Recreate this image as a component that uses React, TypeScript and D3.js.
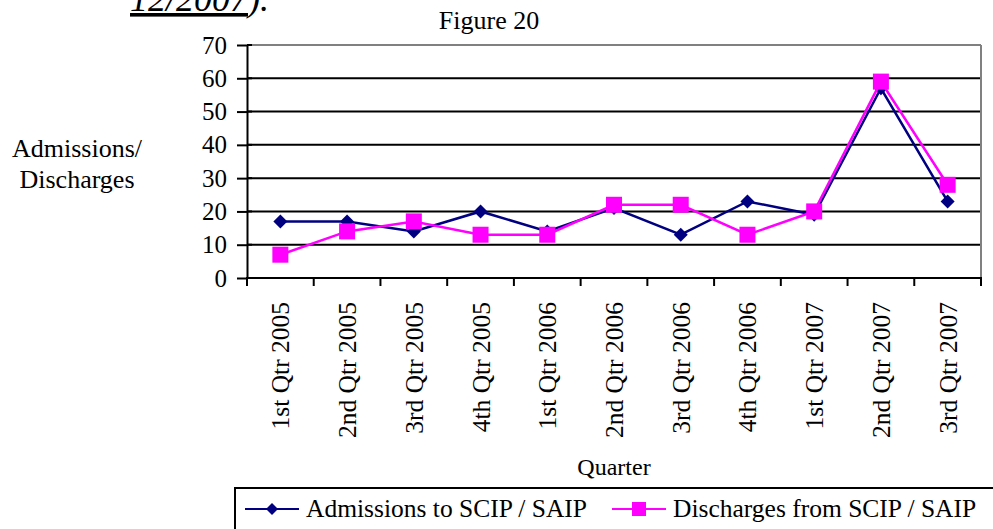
import { useEffect, useRef } from 'react';
import * as d3 from 'd3';

const quarters = [
  '1st Qtr 2005', '2nd Qtr 2005', '3rd Qtr 2005', '4th Qtr 2005',
  '1st Qtr 2006', '2nd Qtr 2006', '3rd Qtr 2006', '4th Qtr 2006',
  '1st Qtr 2007', '2nd Qtr 2007', '3rd Qtr 2007',
];
const admissions = [17, 17, 14, 20, 14, 21, 13, 23, 19, 57, 23];
const discharges = [7, 14, 17, 13, 13, 22, 22, 13, 20, 59, 28];
const yTicks = [0, 10, 20, 30, 40, 50, 60, 70];

const W = 993;
const H = 529;
const FONT = '"Liberation Serif", "Times New Roman", serif';

// excel style markers
const diamondPath = (r: number) => `M0,${-r}L${r},0L0,${r}L${-r},0Z`;
const squarePath = (r: number) => `M${-r},${-r}H${r}V${r}H${-r}Z`;

export default function App() {
  const svgRef = useRef<SVGSVGElement>(null);

  useEffect(() => {
    if (!svgRef.current) return;
    const svg = d3.select(svgRef.current);
    svg.selectAll('*').remove();

    const left = 247, right = 981, top = 45, bottom = 278;

    const x = d3.scaleBand<string>().domain(quarters).range([left, right]).padding(0);
    const y = d3.scaleLinear().domain([0, 70]).range([bottom, top]);
    const cx = (q: string) => (x(q) || 0) + x.bandwidth() / 2;

    // cut-off heading text at the top
    const head = svg.append('text')
      .attr('x', 130).attr('y', 11)
      .style('font-family', FONT).style('font-size', '36px').style('font-style', 'italic')
      .attr('fill', '#000');
    head.append('tspan').style('text-decoration', 'underline').text('12/2007');
    head.append('tspan').text(').');

    svg.append('text')
      .attr('x', 489).attr('y', 29)
      .attr('text-anchor', 'middle')
      .style('font-family', FONT).style('font-size', '26px')
      .text('Figure 20');

    // gridlines
    svg.append('g').selectAll('line')
      .data(yTicks.filter(t => t > 0 && t < 70))
      .enter().append('line')
      .attr('x1', left).attr('x2', right)
      .attr('y1', d => y(d)).attr('y2', d => y(d))
      .attr('stroke', '#000').attr('stroke-width', 2);

    // plot frame (top / right gray)
    svg.append('line').attr('x1', left).attr('x2', right).attr('y1', y(70)).attr('y2', y(70))
      .attr('stroke', '#808080').attr('stroke-width', 2);
    svg.append('line').attr('x1', right).attr('x2', right).attr('y1', y(70)).attr('y2', bottom)
      .attr('stroke', '#808080').attr('stroke-width', 2);

    // y axis
    const yAxis = d3.axisLeft(y).tickValues(yTicks).tickSize(10).tickPadding(10).tickSizeOuter(0);
    const yg = svg.append('g').attr('transform', `translate(${left},0)`).call(yAxis);
    yg.select('.domain').attr('stroke', '#000').attr('stroke-width', 2);
    yg.selectAll('.tick line').attr('stroke', '#000').attr('stroke-width', 2);
    yg.selectAll('.tick text')
      .style('font-family', FONT).style('font-size', '25px').attr('fill', '#000');
    svg.append('g').selectAll('line').data(yTicks).enter().append('line')
      .attr('x1', left).attr('x2', left + 5).attr('y1', d => y(d)).attr('y2', d => y(d))
      .attr('stroke', '#000').attr('stroke-width', 2);

    // x axis
    svg.append('line').attr('x1', left - 1).attr('x2', right + 1).attr('y1', bottom).attr('y2', bottom)
      .attr('stroke', '#000').attr('stroke-width', 2);
    const bounds = [...quarters.map(q => x(q) || 0), right];
    svg.append('g').selectAll('line').data(bounds).enter().append('line')
      .attr('x1', d => d).attr('x2', d => d).attr('y1', bottom).attr('y2', bottom + 8)
      .attr('stroke', '#000').attr('stroke-width', 2);
    svg.append('g').selectAll('text').data(quarters).enter().append('text')
      .attr('transform', d => `translate(${cx(d) + 9},${302}) rotate(-90)`)
      .attr('text-anchor', 'end')
      .style('font-family', FONT).style('font-size', '25.5px')
      .text(d => d);

    // axis titles
    const yt = svg.append('text').attr('text-anchor', 'middle')
      .style('font-family', FONT).style('font-size', '26px');
    yt.append('tspan').attr('x', 77).attr('y', 157).text('Admissions/');
    yt.append('tspan').attr('x', 77).attr('y', 188).text('Discharges');

    svg.append('text')
      .attr('x', (left + right) / 2).attr('y', 475)
      .attr('text-anchor', 'middle')
      .style('font-family', FONT).style('font-size', '24px')
      .text('Quarter');

    // series
    const series = [
      { name: 'Admissions to SCIP / SAIP', values: admissions, color: '#000080', marker: diamondPath(7) },
      { name: 'Discharges from SCIP / SAIP', values: discharges, color: '#FF00FF', marker: squarePath(8) },
    ];
    const line = d3.line<number>().x((_, i) => cx(quarters[i])).y(d => y(d));

    series.forEach(s => {
      svg.append('path').datum(s.values)
        .attr('d', line).attr('fill', 'none')
        .attr('stroke', s.color).attr('stroke-width', 2.5);
      svg.append('g').selectAll('path').data(s.values).enter().append('path')
        .attr('transform', (d, i) => `translate(${cx(quarters[i])},${y(d)})`)
        .attr('d', s.marker)
        .attr('fill', s.color);
    });

    // legend
    svg.append('rect')
      .attr('x', 235).attr('y', 488).attr('width', 770).attr('height', 60)
      .attr('fill', '#fff').attr('stroke', '#000').attr('stroke-width', 2);
    const legendX = [245, 612];
    const legendMarkers = [diamondPath(6), squarePath(7)];
    series.forEach((s, i) => {
      const lx = legendX[i];
      const ly = 509;
      svg.append('line').attr('x1', lx).attr('x2', lx + 54).attr('y1', ly).attr('y2', ly)
        .attr('stroke', s.color).attr('stroke-width', 2);
      svg.append('path')
        .attr('transform', `translate(${lx + 27},${ly})`)
        .attr('d', legendMarkers[i])
        .attr('fill', s.color);
      svg.append('text')
        .attr('x', lx + 61).attr('y', ly + 8)
        .style('font-family', FONT).style('font-size', '25.5px')
        .text(s.name);
    });
  }, []);

  return (
    <svg
      ref={svgRef}
      width={W}
      height={H}
      style={{ position: 'absolute', left: 0, top: 0, background: '#fff' }}
    />
  );
}
